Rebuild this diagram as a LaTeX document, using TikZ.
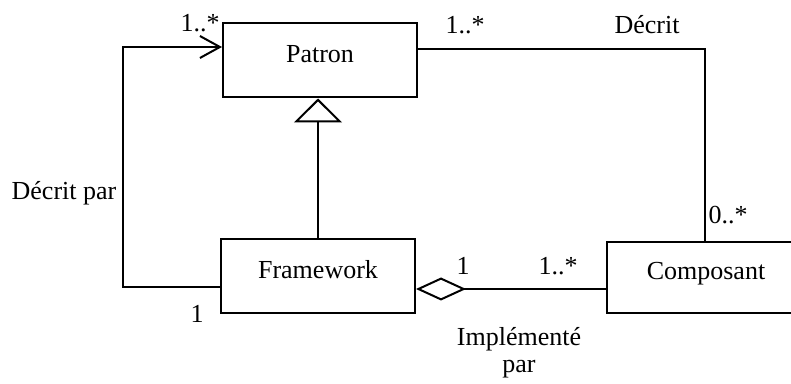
\documentclass[tikz,border=0pt]{standalone}
\usepackage{fontspec}
\setmainfont{Liberation Serif}
\usetikzlibrary{arrows.meta,positioning,calc}

\begin{document}
\begin{tikzpicture}[
  x=0.5pt, y=-0.5pt,
  font=\fontsize{13}{13.5}\selectfont,
  classe/.style={draw, line width=1pt, minimum width=97pt, minimum height=37pt,
    text height=9pt, text depth=7pt, inner sep=0pt},
  lien/.style={line width=1pt},
  nav/.style={lien, -{Straight Barb[length=10pt, width=11pt, line width=1pt]}},
  gen/.style={lien, -{Triangle[open, length=12pt, width=24pt, line width=1pt]}},
  agg/.style={lien, {Diamond[open, length=25pt, width=11.5pt, line width=1pt]}-},
  mult/.style={inner sep=1pt}
]
\useasboundingbox (0,0) rectangle (791,384);

\node[classe] (pat) at (320,60.5) {Patron};
\node[classe] (fw) at (318,276.5) {Framework};
\node[classe, minimum width=99pt, minimum height=35.5pt] (comp) at (706,277.5) {Composant};

% points d'attache
\coordinate (patG) at ($(pat.west)+(0,-13.5)$);
\coordinate (patD) at ($(pat.east)+(0,-11.5)$);
\coordinate (fwG) at ($(fw.west)+(0,10.5)$);
\coordinate (fwD) at ($(fw.east)+(0,12.5)$);
\coordinate (compH) at ($(comp.north)+(-1,0)$);

% Décrit par
\draw[nav] (fwG) -- (123,287) |- (patG);
% Décrit
\draw[lien] (patD) -| (compH);
% héritage
\draw[gen] (fw.north) -- (fw.north |- pat.south);
% Implémenté par
\draw[agg] (fwD) -- (fwD -| comp.west);

\node[mult] (m1) at (200,23) {1..*};
\node[mult] (m2) at (197,314) {1};
\node[mult] (dp) at (64,193) {Décrit par};
\node[mult] (m3) at (465,25) {1..*};
\node[mult] (dc) at (647,25) {Décrit};
\node[mult] (m4) at (728,215) {0..*};
\node[mult] (m5) at (463,266) {1};
\node[mult] (m6) at (558,266) {1..*};
\node[mult, align=center] (ip) at (519,353) {Implémenté\\par};
\end{tikzpicture}
\end{document}
